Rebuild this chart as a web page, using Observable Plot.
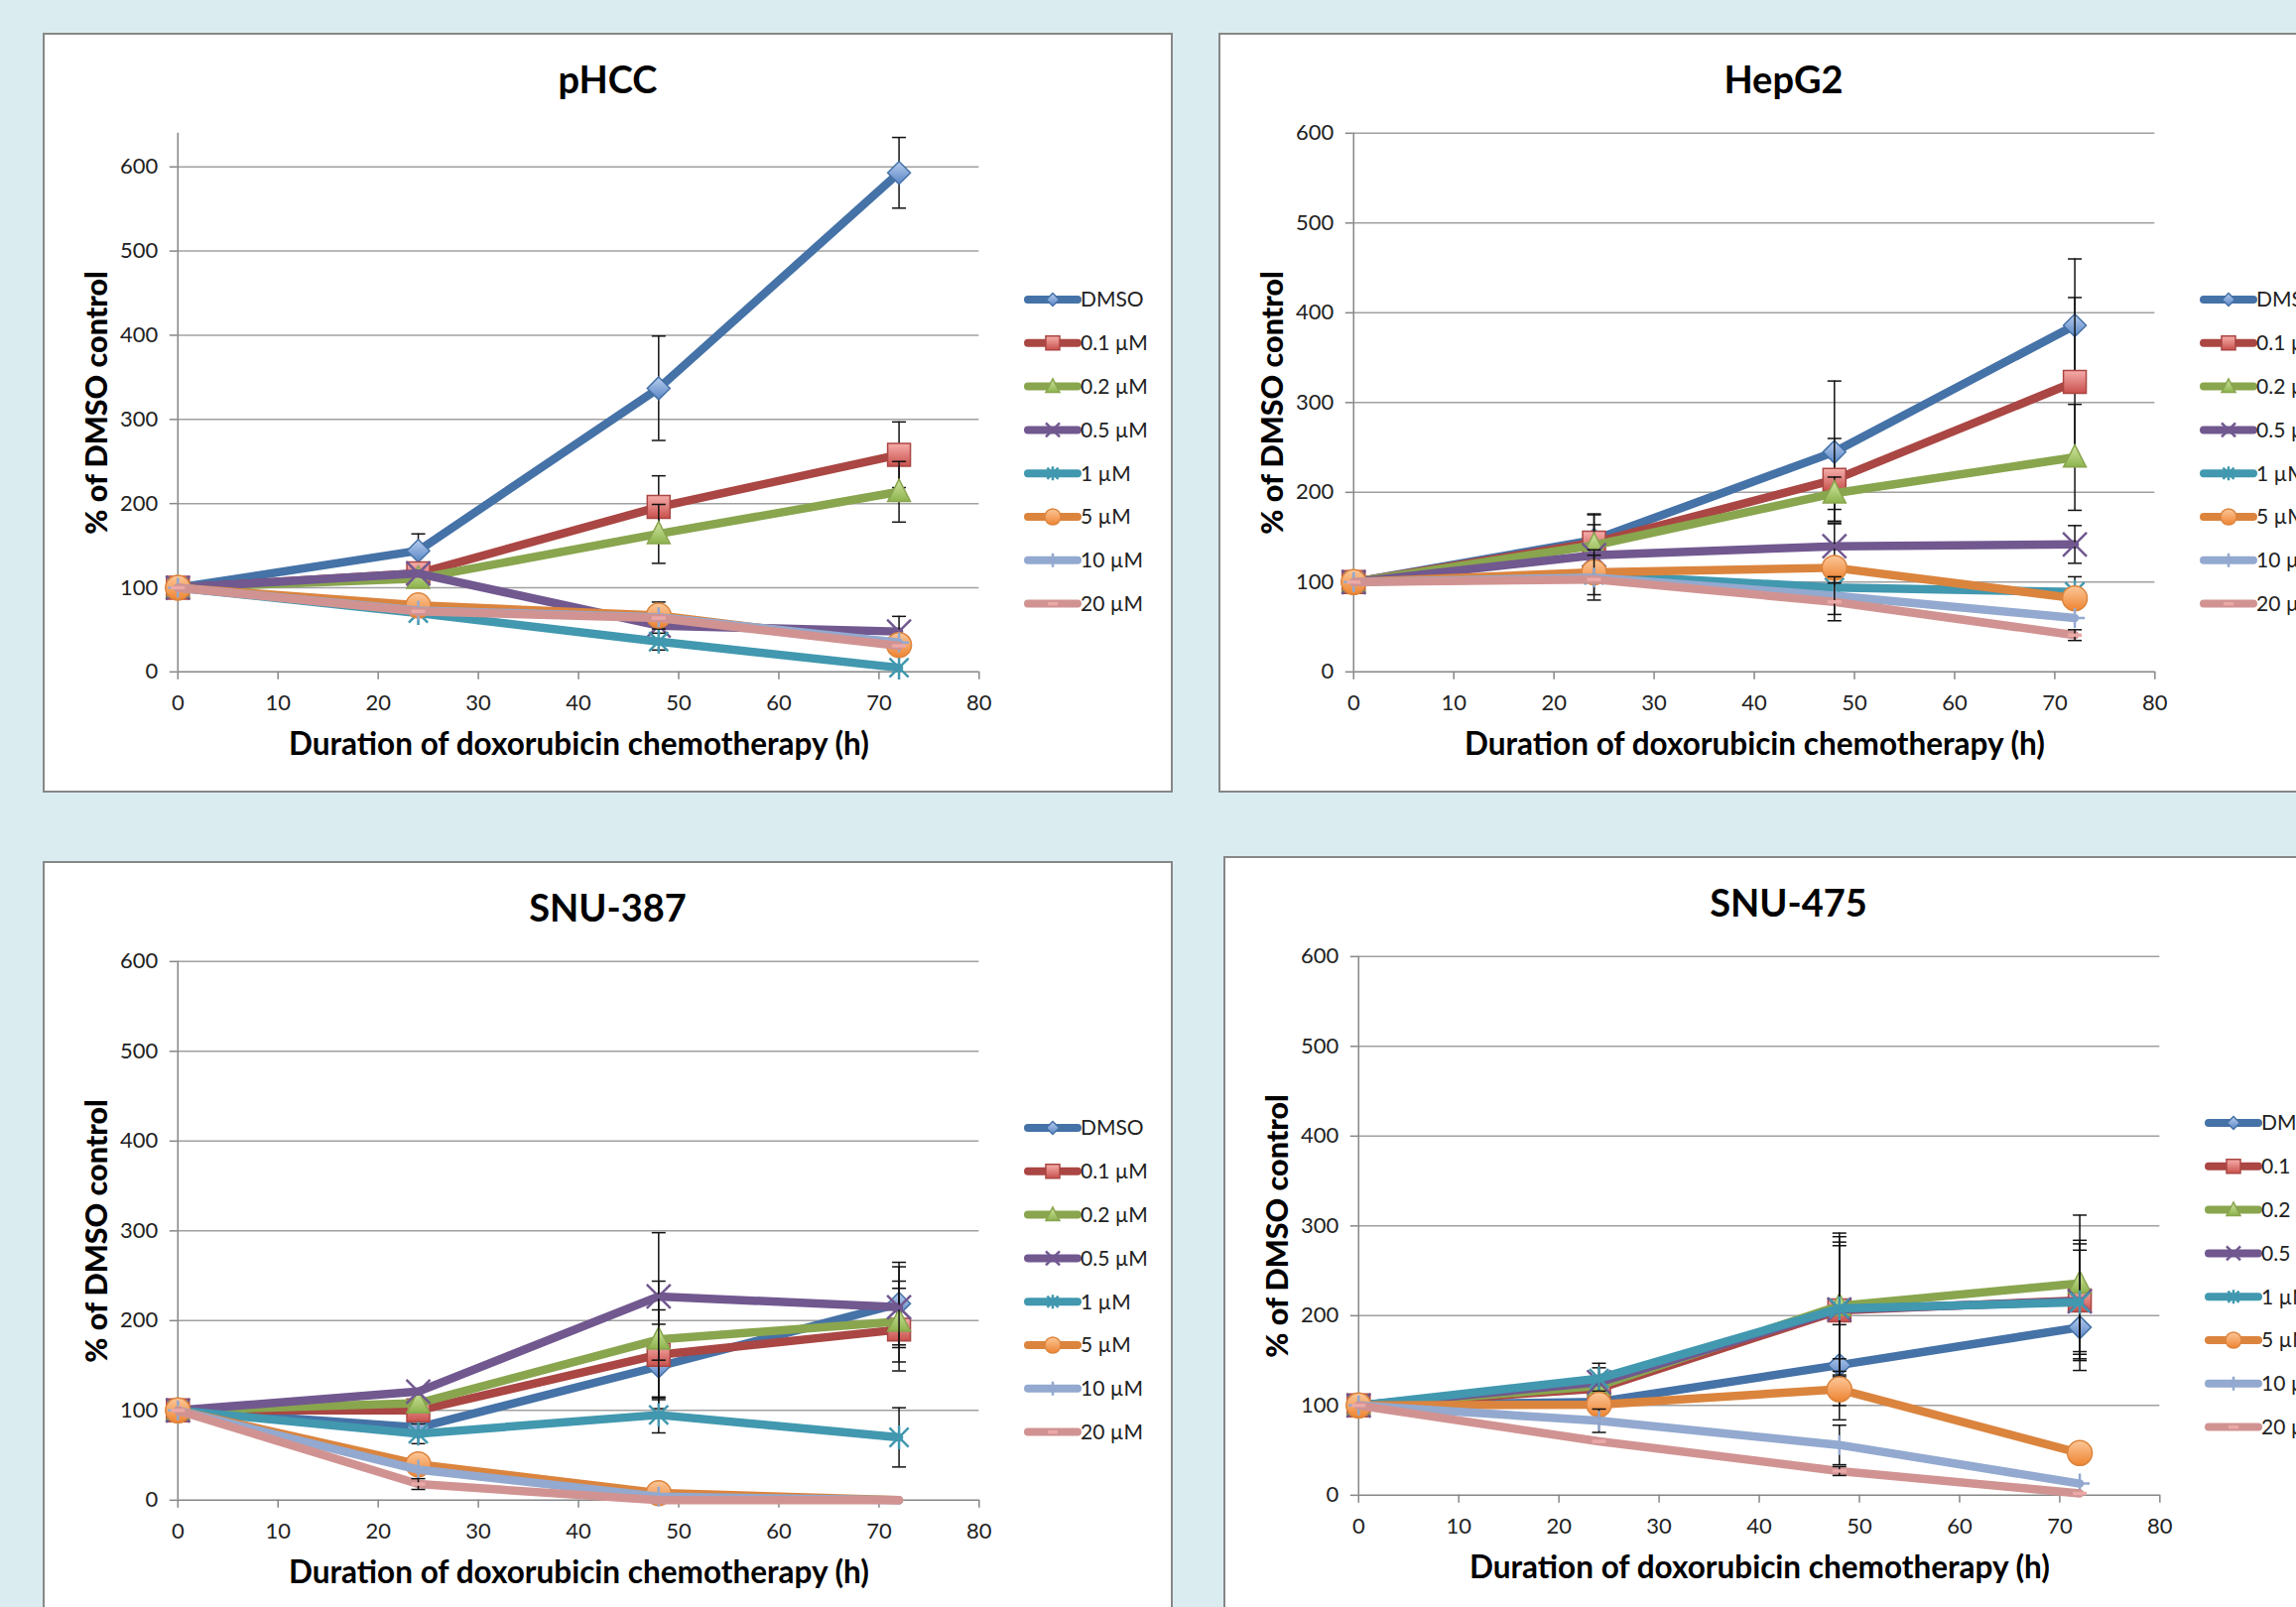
<!DOCTYPE html>
<html><head><meta charset="utf-8">
<script src="https://cdn.jsdelivr.net/npm/d3@7"></script>
<script src="https://cdn.jsdelivr.net/npm/@observablehq/plot@0.6"></script>
<style>
html,body{margin:0;padding:0;}
body{width:2314px;height:1620px;overflow:hidden;background:#daecef;position:relative;font-family:Lato,sans-serif;}
.panel{position:absolute;width:1139px;height:766px;background:#fff;box-sizing:border-box;border:2px solid #878787;}
.panel .plotwrap{position:absolute;left:-2px;top:-2px;}
.panel svg.overlay{position:absolute;left:-2px;top:-2px;pointer-events:none;overflow:visible;}
</style></head><body>
<svg width="0" height="0" style="position:absolute">
<defs>
 <linearGradient id="gBlue" x1="0" y1="0" x2="0" y2="1"><stop offset="0" stop-color="#b7cdee"/><stop offset="1" stop-color="#5a86c5"/></linearGradient>
 <linearGradient id="gRed" x1="0" y1="0" x2="0" y2="1"><stop offset="0" stop-color="#f6aeab"/><stop offset="1" stop-color="#c8504c"/></linearGradient>
 <linearGradient id="gGreen" x1="0" y1="0" x2="0" y2="1"><stop offset="0" stop-color="#d2e7a2"/><stop offset="1" stop-color="#8cb24c"/></linearGradient>
 <linearGradient id="gOrange" x1="0" y1="0" x2="0" y2="1"><stop offset="0" stop-color="#fcc799"/><stop offset="1" stop-color="#ee8431"/></linearGradient>
</defs></svg>
<script>
// ---------- data ----------
const hours = [0, 24, 48, 72];
const seriesNames = ["DMSO", "0.1 µM", "0.2 µM", "0.5 µM", "1 µM", "5 µM", "10 µM", "20 µM"];
const seriesColors = ["#4572A7", "#AA4643", "#89A54E", "#71588F", "#4198AF", "#DB843D", "#93A9CF", "#D19392"];
const xTicks = [0, 10, 20, 30, 40, 50, 60, 70, 80];
const yTicks = [0, 100, 200, 300, 400, 500, 600];
const panelTitles = ["pHCC", "HepG2", "SNU-387", "SNU-475"];
const yMax = [640, 600, 600, 600];
const xLabel = "Duration of doxorubicin chemotherapy (h)";
const yLabel = "% of DMSO control";

const pHCCValues = [
  [100, 144, 337, 593],
  [100, 117, 196, 258],
  [100, 111, 164, 214],
  [100, 117, 55, 48],
  [100, 70, 36, 5],
  [100, 79, 67, 32],
  [100, 73, 65, 35],
  [100, 72, 64, 31]
];
const pHCCErrors = [
  [0, 20, 62, 42],
  [0, 0, 37, 39],
  [0, 0, 35, 36],
  [0, 0, 0, 18],
  [0, 0, 10, 0],
  [0, 0, 16, 0],
  [0, 0, 0, 0],
  [0, 0, 0, 0]
];
const hepG2Values = [
  [100, 147, 245, 386],
  [100, 144, 214, 323],
  [100, 141, 199, 239],
  [100, 130, 140, 142],
  [100, 108, 94, 89],
  [100, 111, 116, 82],
  [100, 105, 85, 60],
  [100, 103, 78, 41]
];
const hepG2Errors = [
  [0, 29, 79, 74],
  [0, 31, 46, 94],
  [0, 23, 18, 59],
  [0, 0, 25, 21],
  [0, 0, 0, 17],
  [0, 25, 0, 0],
  [0, 25, 21, 0],
  [0, 0, 21, 6]
];
const snu387Values = [
  [100, 81, 149, 219],
  [100, 100, 162, 190],
  [100, 108, 179, 199],
  [100, 121, 227, 215],
  [100, 74, 95, 70],
  [100, 40, 8, 0],
  [100, 34, 4, 0],
  [100, 18, 0, 0]
];
const snu387Errors = [
  [0, 0, 47, 46],
  [0, 0, 50, 46],
  [0, 0, 65, 45],
  [0, 0, 71, 45],
  [0, 11, 20, 33],
  [0, 0, 0, 0],
  [0, 0, 0, 0],
  [0, 6, 0, 0]
];
const snu475Values = [
  [100, 104, 145, 187],
  [100, 119, 206, 217],
  [100, 122, 211, 236],
  [100, 126, 207, 216],
  [100, 130, 208, 215],
  [100, 101, 118, 47],
  [100, 83, 56, 13],
  [100, 60, 27, 2]
];
const snu475Errors = [
  [0, 0, 45, 48],
  [0, 0, 86, 67],
  [0, 0, 77, 76],
  [0, 16, 75, 64],
  [0, 17, 70, 58],
  [0, 15, 34, 0],
  [0, 13, 22, 0],
  [0, 0, 5, 0]
];
const panelValues = [pHCCValues, hepG2Values, snu387Values, snu475Values];
const panelErrors = [pHCCErrors, hepG2Errors, snu387Errors, snu475Errors];

// ---------- layout & style ----------
const panelPos = [[43, 33], [1228, 33], [43, 868], [1233, 863]];
const W = 1139, H = 766, ML = 136, MR = 194, MT = 101, MB = 121;
const FONT = "Lato, 'Open Sans', sans-serif";

const rr = s => Math.sqrt(s / Math.PI);
const symDiamond = {draw(c, s){const h = rr(s); c.moveTo(0,-h); c.lineTo(h,0); c.lineTo(0,h); c.lineTo(-h,0); c.closePath();}};
const symSquare = {draw(c, s){const h = rr(s); c.rect(-h,-h,2*h,2*h);}};
const symTriangle = {draw(c, s){const h = rr(s); c.moveTo(0,-h*1.1); c.lineTo(h,h*0.85); c.lineTo(-h,h*0.85); c.closePath();}};
const symTimes = {draw(c, s){const h = rr(s); c.moveTo(-h,-h); c.lineTo(h,h); c.moveTo(h,-h); c.lineTo(-h,h);}};
const symAsterisk = {draw(c, s){const h = rr(s); const k = h*0.8; c.moveTo(-k,-k); c.lineTo(k,k); c.moveTo(k,-k); c.lineTo(-k,k); c.moveTo(0,-h); c.lineTo(0,h);}};
const symCircle = {draw(c, s){const h = rr(s); c.moveTo(h,0); c.arc(0,0,h,0,2*Math.PI);}};
const symPlus = {draw(c, s){const h = rr(s); c.moveTo(0,-h); c.lineTo(0,h); c.moveTo(-h,0); c.lineTo(h,0);}};
const symDash = {draw(c, s){const h = rr(s); c.moveTo(-h,0); c.lineTo(h,0);}};
const symCap = {draw(c, s){const h = rr(s); c.moveTo(-h,0); c.lineTo(h,0);}};

const markerSpec = [
  {symbol: symDiamond, r: 11.5, lr: 6.5, fill: "url(#gBlue)", stroke: "#4572A7", sw: 1.5},
  {symbol: symSquare, r: 11.5, lr: 7, fill: "url(#gRed)", stroke: "#AA4643", sw: 1.5},
  {symbol: symTriangle, r: 11.5, lr: 7, fill: "url(#gGreen)", stroke: "#89A54E", sw: 1.5},
  {symbol: symTimes, r: 12, lr: 7, fill: "none", stroke: "#71588F", sw: 2.5},
  {symbol: symAsterisk, r: 12, lr: 7, fill: "none", stroke: "#4198AF", sw: 2.5},
  {symbol: symCircle, r: 12.5, lr: 8, fill: "url(#gOrange)", stroke: "#DB843D", sw: 1.5},
  {symbol: symPlus, r: 10, lr: 7, fill: "none", stroke: "#93A9CF", sw: 2.5},
  {symbol: symDash, r: 7, lr: 5, fill: "none", stroke: "#eaa9a7", sw: 3.5}
];

function makePanel(p) {
  const vals = panelValues[p], errs = panelErrors[p];
  const marks = [
    Plot.gridY({ticks: yTicks.filter(v => v > 0), stroke: "#a0a0a0", strokeOpacity: 1, strokeWidth: 1.5}),
    Plot.ruleY([0], {stroke: "#868686", strokeWidth: 1.5}),
    Plot.ruleX([0], {y1: 0, y2: yMax[p], stroke: "#868686", strokeWidth: 1.5}),
    Plot.axisX({ticks: xTicks, tickSize: 8, tickPadding: 15, stroke: "#868686", strokeWidth: 1.5, fill: "#222", label: null}),
    Plot.axisY({ticks: yTicks, tickSize: 8, tickPadding: 12, stroke: "#868686", strokeWidth: 1.5, fill: "#222", label: null})
  ];
  for (let s = 0; s < seriesNames.length; s++) {
    const data = hours.map((h, i) => ({hour: h, v: vals[s][i], e: errs[s][i]}));
    const ed = data.filter(d => d.e > 0);
    marks.push(Plot.line(data, {x: "hour", y: "v", stroke: seriesColors[s], strokeWidth: 8.5, strokeLinejoin: "round", strokeLinecap: "round"}));
    if (ed.length) {
      marks.push(Plot.ruleX(ed, {x: "hour", y1: d => d.v - d.e, y2: d => d.v + d.e, stroke: "#111", strokeWidth: 1.5}));
      marks.push(Plot.dot(ed, {x: "hour", y: d => d.v + d.e, symbol: symCap, r: 7, fill: "none", stroke: "#111", strokeWidth: 1.5}));
      marks.push(Plot.dot(ed, {x: "hour", y: d => d.v - d.e, symbol: symCap, r: 7, fill: "none", stroke: "#111", strokeWidth: 1.5}));
    }
    const m = markerSpec[s];
    marks.push(Plot.dot(data.filter(d => d.v > 0), {x: "hour", y: "v", symbol: m.symbol, r: m.r, fill: m.fill, stroke: m.stroke, strokeWidth: m.sw, ariaLabel: "marker"}));
  }
  const chart = Plot.plot({
    width: W, height: H,
    marginLeft: ML, marginRight: MR, marginTop: MT, marginBottom: MB,
    x: {domain: [0, 80]},
    y: {domain: [0, yMax[p]]},
    style: {background: "transparent", fontFamily: FONT, fontSize: "22px", color: "#222", overflow: "visible"},
    marks
  });
  chart.querySelectorAll('g[aria-label="marker"]').forEach(g => g.style.filter = "drop-shadow(2px 2px 1.5px rgba(0,0,0,0.35))");

  const div = document.createElement("div");
  div.className = "panel";
  div.style.left = panelPos[p][0] + "px";
  div.style.top = panelPos[p][1] + "px";
  const wrap = document.createElement("div");
  wrap.className = "plotwrap";
  wrap.appendChild(chart);
  div.appendChild(wrap);

  const ov = d3.create("svg").attr("class", "overlay").attr("width", W).attr("height", H)
    .style("font-family", FONT);
  ov.append("text").attr("x", W / 2).attr("y", 61).attr("text-anchor", "middle")
    .attr("font-size", 38).attr("font-weight", 700).attr("fill", "#000").text(panelTitles[p]);
  ov.append("text").attr("x", ML + (W - ML - MR) / 2).attr("y", 728).attr("text-anchor", "middle")
    .attr("font-size", 31.5).attr("font-weight", 700).attr("fill", "#000").text(xLabel);
  ov.append("text").attr("transform", `translate(65,${MT + (H - MT - MB) / 2}) rotate(-90)`).attr("text-anchor", "middle")
    .attr("font-size", 30.5).attr("font-weight", 900).attr("fill", "#000").text(yLabel);
  const lg = ov.append("g");
  seriesNames.forEach((name, i) => {
    const y = 269 + i * 43.8;
    const m = markerSpec[i];
    lg.append("line").attr("x1", 993).attr("x2", 1043).attr("y1", y).attr("y2", y)
      .attr("stroke", seriesColors[i]).attr("stroke-width", 8).attr("stroke-linecap", "round");
    lg.append("path").attr("transform", `translate(1018,${y})`)
      .attr("d", d3.symbol().type(m.symbol).size(Math.PI * m.lr * m.lr)())
      .attr("fill", m.fill).attr("stroke", m.stroke).attr("stroke-width", m.sw);
    lg.append("text").attr("x", 1046).attr("y", y).attr("dy", "0.35em")
      .attr("font-size", 21).attr("fill", "#222").text(name);
  });
  div.appendChild(ov.node());
  document.body.appendChild(div);
}
for (let p = 0; p < 4; p++) makePanel(p);
</script>
</body></html>
